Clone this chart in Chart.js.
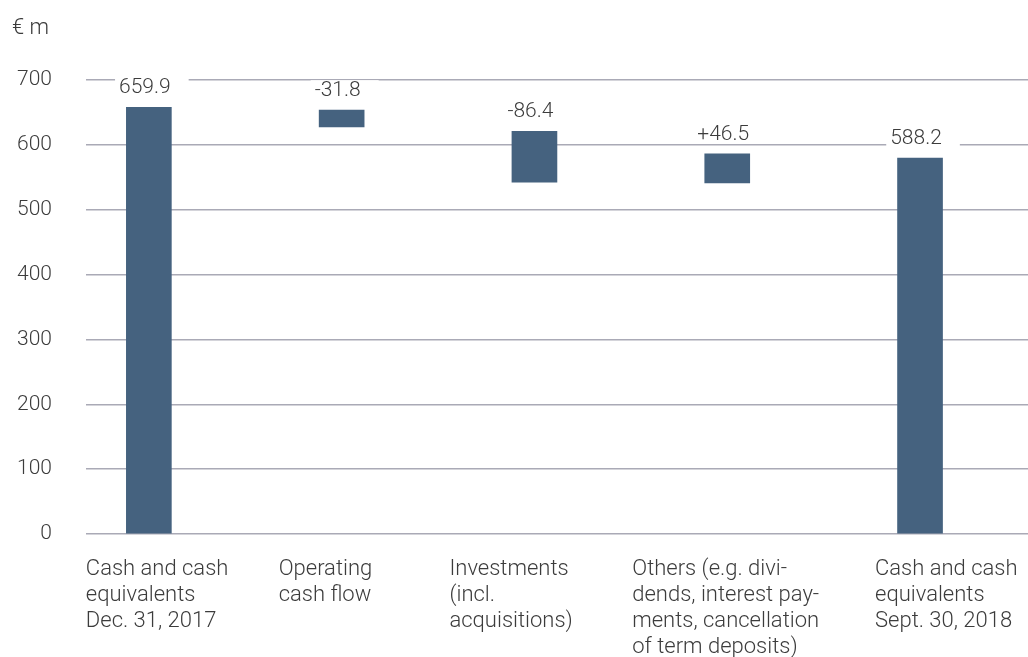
<!DOCTYPE html>
<html>
<head>
<meta charset="utf-8">
<script src="https://cdn.jsdelivr.net/npm/chart.js@4"></script>
<style>
  html, body { margin: 0; padding: 0; background: #fff; }
  #wrap { width: 1028px; height: 657px; }
</style>
</head>
<body>
<div id="wrap"><canvas id="cash-bridge"></canvas></div>
<script>
// categories, multi-line like the original
let CATEGORIES = [
  ["Cash and cash", "equivalents", "Dec. 31, 2017"],
  ["Operating", "cash flow"],
  ["Investments", "(incl.", "acquisitions)"],
  ["Others (e.g. divi-", "dends, interest pay-", "ments, cancellation", "of term deposits)"],
  ["Cash and cash", "equivalents", "Sept. 30, 2018"]
];

// floating bars, bottom and top (€ m) as drawn
let BAR_LOW = [0, 627.5, 542.5, 541.5, 0];
let BAR_HIGH = [658, 653.5, 621, 586, 579.5];

// printed values above the bars
let VALUE_LABELS = ["659.9", "-31.8", "-86.4", "+46.5", "588.2"];

let Y_TICKS = [0, 100, 200, 300, 400, 500, 600, 700];

// left edge of each category text, px from its bar centre
let LABEL_SHIFT = [-63, -63, -85, -95, -45];

let BAR = "#45627f";
let GRID = "#aaaab6";
let TEXT = "#3c3c3c";
let FONT = "Roboto, 'Open Sans', sans-serif";

var barData = CATEGORIES.map(function (c, i) {
  return { x: i, y: [BAR_LOW[i], BAR_HIGH[i]] };
});

// value text with a white box that cuts the grid line behind it
var valueLabels = {
  id: 'valueLabels',
  afterDatasetsDraw: function (chart) {
    var ctx = chart.ctx;
    var meta = chart.getDatasetMeta(0);
    ctx.save();
    ctx.font = "300 21px " + FONT;
    ctx.textAlign = "center";
    ctx.textBaseline = "alphabetic";
    meta.data.forEach(function (el, i) {
      var top = Math.min(el.y, el.base);
      var cx = el.x - 4;
      var base = top - 14;
      var w = ctx.measureText(VALUE_LABELS[i]).width;
      ctx.fillStyle = "#fff";
      ctx.fillRect(cx - w / 2 - 4, base - 16, w + 22, 19);
      ctx.fillStyle = TEXT;
      ctx.fillText(VALUE_LABELS[i], cx, base);
    });
    ctx.restore();
  }
};

// category text, left aligned in columns under the bars
var categoryLabels = {
  id: 'categoryLabels',
  afterDraw: function (chart) {
    var ctx = chart.ctx;
    var xs = chart.scales.x;
    var lineH = 26;
    var y0 = chart.chartArea.bottom + 22 + lineH / 2;
    ctx.save();
    ctx.font = "300 22px " + FONT;
    ctx.fillStyle = TEXT;
    ctx.textAlign = "left";
    ctx.textBaseline = "middle";
    CATEGORIES.forEach(function (lines, i) {
      var x = xs.getPixelForValue(i) + LABEL_SHIFT[i];
      lines.forEach(function (line, k) {
        ctx.fillText(line, x, y0 + k * lineH);
      });
    });
    ctx.restore();
  }
};

var ctx = document.getElementById("cash-bridge").getContext('2d');
var bridgeChart = new Chart(ctx, {
  type: 'bar',
  data: {
    datasets: [{
      data: barData,
      backgroundColor: BAR,
      barThickness: 45
    }]
  },
  plugins: [valueLabels, categoryLabels],
  options: {
    responsive: true,
    maintainAspectRatio: false,
    animation: false,
    layout: { padding: { left: 12, right: 0, top: 0, bottom: 0 } },
    plugins: {
      legend: { display: false },
      tooltip: { enabled: false },
      title: {
        display: true,
        text: "€ m",
        align: 'start',
        color: TEXT,
        font: { family: FONT, size: 22, weight: 300, lineHeight: 1.2 },
        padding: { top: 15, bottom: 38.6 }
      }
    },
    scales: {
      x: {
        type: 'linear',
        offset: false,
        min: -0.326,
        max: 4.56,
        grid: { display: false, drawTicks: false },
        border: { display: false },
        afterBuildTicks: function (scale) {
          scale.ticks = CATEGORIES.map(function (c, i) { return { value: i }; });
        },
        afterFit: function (scale) {
          scale.paddingLeft = 0;
          scale.paddingRight = 0;
          scale.height = 123;
        },
        ticks: { display: false }
      },
      y: {
        min: 0,
        max: 700,
        grid: { color: GRID, lineWidth: 1.5, drawTicks: false },
        border: { display: false },
        afterBuildTicks: function (scale) {
          scale.ticks = Y_TICKS.map(function (v) { return { value: v }; });
        },
        afterFit: function (scale) {
          scale.width = 74;
        },
        ticks: {
          padding: 34,
          color: TEXT,
          font: { family: FONT, size: 21, weight: 300 }
        }
      }
    }
  }
});
</script>
</body>
</html>
